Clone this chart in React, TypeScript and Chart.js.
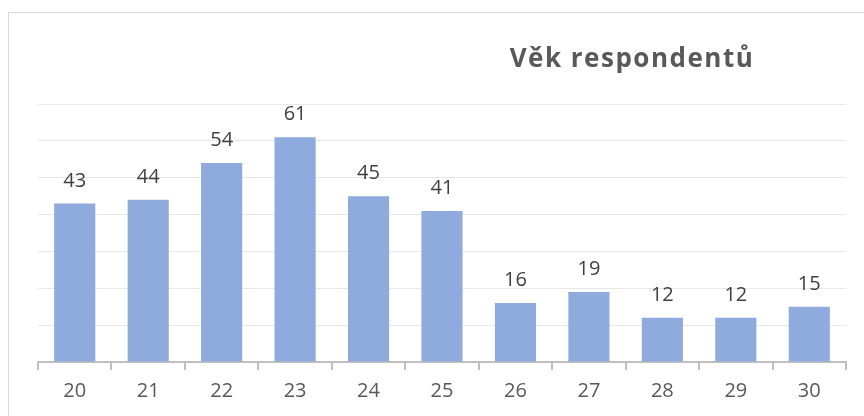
import React, { useEffect, useRef } from "react";
import { Chart, registerables } from "chart.js";

Chart.register(...registerables);

const categories = ["20", "21", "22", "23", "24", "25", "26", "27", "28", "29", "30"];
const counts = [43, 44, 54, 61, 45, 41, 16, 19, 12, 12, 15];
const titleText = "Věk respondentů";
const yMax = 70;
const yStep = 10;

const FONT = "'Open Sans', 'DejaVu Sans', sans-serif";

const labelPlugin = {
  id: "barLabels",
  afterDatasetsDraw(chart: any) {
    const ctx = chart.ctx;
    const meta = chart.getDatasetMeta(0);
    ctx.save();
    ctx.font = `20px ${FONT}`;
    ctx.fillStyle = "#404040";
    ctx.textAlign = "center";
    ctx.textBaseline = "alphabetic";
    meta.data.forEach((bar: any, i: number) => {
      ctx.fillText(String(counts[i]), bar.x, bar.y - 17);
    });
    ctx.restore();
  },
};

const titlePlugin = {
  id: "customTitle",
  afterDraw(chart: any) {
    const ctx = chart.ctx;
    ctx.save();
    ctx.font = `bold 26px ${FONT}`;
    (ctx as any).letterSpacing = "1.5px";
    ctx.fillStyle = "#595959";
    ctx.textAlign = "center";
    ctx.textBaseline = "alphabetic";
    ctx.fillText(titleText, 632, 67);
    ctx.restore();
  },
};

export default function App() {
  const ref = useRef<HTMLCanvasElement>(null);
  useEffect(() => {
    if (!ref.current) return;
    const chart = new Chart(ref.current, {
      type: "bar",
      data: {
        labels: categories,
        datasets: [
          {
            data: counts,
            backgroundColor: "#8FAADC",
            borderWidth: 0,
            barPercentage: 0.56,
            categoryPercentage: 1,
          },
        ],
      },
      options: {
        animation: false,
        responsive: false,
        maintainAspectRatio: false,
        layout: { padding: { left: 38, right: 18, top: 104, bottom: 4 } },
        plugins: {
          legend: { display: false },
          title: { display: false },
          tooltip: { enabled: false },
        },
        scales: {
          x: {
            offset: true,
            grid: {
              offset: true,
              drawOnChartArea: false,
              drawTicks: true,
              tickLength: 8,
              color: "#bfbfbf",
              lineWidth: 2,
            },
            border: { display: true, color: "#bfbfbf", width: 2 },
            ticks: {
              color: "#595959",
              font: { family: FONT, size: 20 },
              padding: 9,
            },
          },
          y: {
            min: 0,
            max: yMax,
            ticks: { display: false, stepSize: yStep },
            grid: { color: "#e8e8e8", lineWidth: 1, drawTicks: false },
            border: { display: false },
          },
        },
      },
      plugins: [labelPlugin, titlePlugin],
    });
    return () => chart.destroy();
  }, []);
  return (
    <div style={{ position: "fixed", left: 0, top: 0, width: 864, height: 416, background: "#fff", overflow: "hidden" }}>
      <div
        style={{
          position: "absolute",
          left: 8,
          top: 12,
          width: 1000,
          height: 600,
          borderLeft: "1px solid #d9d9d9",
          borderTop: "1px solid #d9d9d9",
        }}
      />
      <canvas ref={ref} width={864} height={416} style={{ position: "absolute", left: 0, top: 0 }} />
    </div>
  );
}
